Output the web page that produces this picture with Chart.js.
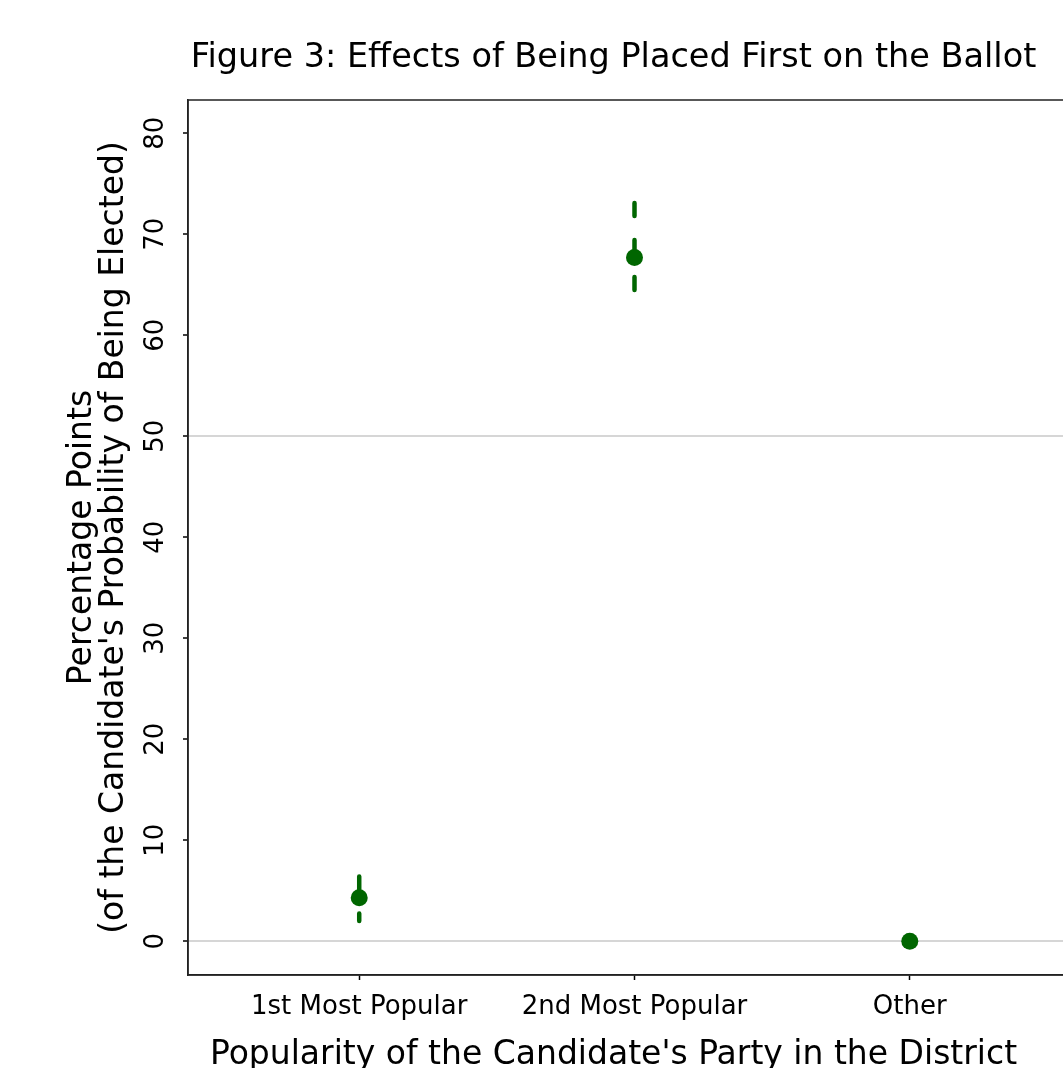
<!DOCTYPE html>
<html>
<head>
<meta charset="utf-8">
<title>Figure 3</title>
<script src="https://cdn.jsdelivr.net/npm/chart.js@4.4.1/dist/chart.umd.min.js"></script>
<style>
  html, body { margin: 0; padding: 0; background: #fff; overflow: hidden; }
  #wrap { width: 1227px; height: 1090px; }
</style>
</head>
<body>
<div id="wrap"><canvas id="ballotChart" width="1227" height="1090"></canvas></div>
<script>
// Figure 3: effect of ballot position, point estimates with dashed CIs

const categories = ['1st Most Popular', '2nd Most Popular', 'Other'];
const estimates = [4.3, 67.7, 0];
const ciLow = [2.0, 63.9, null];
const ciHigh = [6.4, 73.1, null];
const yTicks = [0, 10, 20, 30, 40, 50, 60, 70, 80];
const yGridAt = [0, 50];

const green = '#006600';
const fontFamily = '"DejaVu Sans", "Liberation Sans", Arial, sans-serif';

// one dashed line per interval, drawn top -> bottom like the original
const ciSets = categories
  .map((c, i) => ({ c, i }))
  .filter(d => ciLow[d.i] !== null && ciHigh[d.i] !== null)
  .map(d => ({
    label: d.c + ' CI',
    data: [{ x: d.i + 1, y: ciHigh[d.i] }, { x: d.i + 1, y: ciLow[d.i] }],
    showLine: true,
    borderColor: green,
    borderWidth: 4.5,
    borderDash: [13, 24],
    borderCapStyle: 'round',
    pointRadius: 0,
    order: 2
  }));

const frame = {
  id: 'frame',
  beforeDatasetsDraw(chart) {
    const { ctx, chartArea: a } = chart;
    ctx.save();
    ctx.strokeStyle = '#222';
    ctx.lineWidth = 1.5;
    ctx.strokeRect(a.left, a.top, a.right - a.left, a.bottom - a.top);
    ctx.restore();
  }
};

new Chart(document.getElementById('ballotChart'), {
  type: 'scatter',
  data: {
    datasets: [
      ...ciSets,
      {
        label: 'Estimate',
        data: categories.map((c, i) => ({ x: i + 1, y: estimates[i] })),
        backgroundColor: green,
        borderWidth: 0,
        pointRadius: 8.5,
        order: 1
      }
    ]
  },
  options: {
    responsive: false,
    animation: false,
    layout: { padding: 0 },
    plugins: {
      legend: { display: false },
      tooltip: { enabled: false },
      title: {
        display: true,
        text: 'Figure 3: Effects of Being Placed First on the Ballot',
        color: '#000',
        font: { family: fontFamily, size: 33.5, weight: 'normal', lineHeight: 1.2 },
        padding: { top: 38, bottom: 21.8 }
      },
      subtitle: {
        display: true,
        position: 'bottom',
        text: "Popularity of the Candidate's Party in the District",
        color: '#000',
        font: { family: fontFamily, size: 33, weight: 'normal', lineHeight: 1.2 },
        padding: { top: 0, bottom: 15 }
      }
    },
    scales: {
      x: {
        type: 'linear',
        min: 0.378,
        max: 3.622,
        afterBuildTicks: s => { s.ticks = categories.map((c, i) => ({ value: i + 1 })); },
        afterFit: s => { s.height = 60.4; },
        ticks: {
          callback: v => categories[v - 1],
          color: '#000',
          font: { family: fontFamily, size: 26 },
          padding: 12,
          maxRotation: 0,
          autoSkip: false
        },
        grid: { color: 'transparent', tickColor: '#000', tickLength: 5, tickWidth: 1.5 },
        border: { display: true, color: '#222', width: 1.5 }
      },
      y: {
        type: 'linear',
        min: -3.35,
        max: 83.3,
        afterBuildTicks: s => { s.ticks = yTicks.map(v => ({ value: v })); },
        afterFit: s => { s.width = 188; },
        ticks: {
          color: '#000',
          font: { family: fontFamily, size: 26 },
          minRotation: 90,
          maxRotation: 90,
          crossAlign: 'center',
          padding: 10
        },
        grid: {
          color: c => (c.tick && yGridAt.includes(c.tick.value)) ? '#d6d6d6' : 'transparent',
          lineWidth: 2,
          tickColor: '#000',
          tickLength: 5,
          tickWidth: 1.5
        },
        border: { display: true, color: '#222', width: 1.5 },
        title: {
          display: true,
          text: ['Percentage Points', "(of the Candidate's Probability of Being Elected)"],
          color: '#000',
          font: { family: fontFamily, size: 33, lineHeight: 0.98 },
          padding: { top: 66, bottom: 0 }
        }
      },
      // empty right-hand box: the plot runs past the visible window on the right
      yRight: {
        type: 'linear',
        position: 'right',
        display: true,
        afterFit: s => { s.width = 146; },
        ticks: { display: false },
        grid: { display: false },
        border: { display: false }
      }
    }
  },
  plugins: [frame]
});
</script>
</body>
</html>
